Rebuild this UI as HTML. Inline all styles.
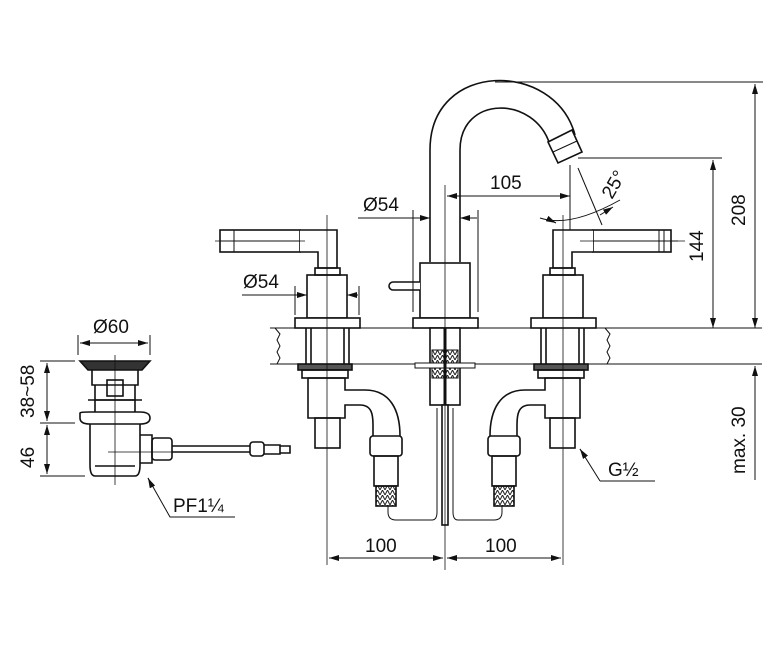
<!DOCTYPE html>
<html><head><meta charset="utf-8"><style>
html,body{margin:0;padding:0;background:#fff}
svg{display:block}
text{font-family:"Liberation Sans","DejaVu Sans",sans-serif;font-size:19px;fill:#111}
</style></head><body>
<svg width="780" height="650" viewBox="0 0 780 650" xmlns="http://www.w3.org/2000/svg">
<defs>
<marker id="a" viewBox="0 0 10 6" refX="10" refY="3" markerWidth="10" markerHeight="6" orient="auto-start-reverse" markerUnits="userSpaceOnUse"><path d="M0,0 L10,3 L0,6z" fill="#111"/></marker>
<pattern id="br" width="5" height="5" patternUnits="userSpaceOnUse"><path d="M0,5 L2.5,0 L5,5" fill="none" stroke="#222" stroke-width="1"/></pattern>
</defs>
<g fill="none" stroke="#111" stroke-width="1.6">
<!-- counter -->
<path d="M270,328 H762 M270,364 H762" stroke-width="1"/>
<path d="M275,328 l5,6 -3,6 3,6 -3,6 3,6 -3,6 M605,328 l5,6 -3,6 3,6 -3,6 3,6 -3,6" stroke-width="1"/>
<!-- spout -->
<path d="M430,262 V150 C430,60 555,60 575,135"/>
<path d="M460,262 V150 C460,95 535,95 550,145"/>
<path d="M548,142 L572,130 L582,152 L558,163 Z" fill="#fff"/>
<path d="M553,152 L577,141" stroke-width="1"/>
<rect x="420" y="263" width="50" height="55" fill="#fff"/>
<rect x="413" y="318" width="65" height="10" fill="#fff"/>
<path d="M420,282 H393 a4,4 0 0 0 0,8 H420" fill="#fff"/>
<!-- left handle -->
<rect x="220" y="230" width="80" height="22" fill="#fff"/>
<path d="M234,230 V252 M220,241 H300" stroke-width="1"/>
<path d="M300,230 H337 V268 H318 V252 H300" fill="#fff"/>
<rect x="315" y="268" width="25" height="7"/>
<rect x="307" y="275" width="40" height="43"/>
<rect x="295" y="318" width="65" height="10" fill="#fff"/>
<!-- right handle -->
<rect x="593" y="230" width="78" height="22" fill="#fff"/>
<path d="M659,230 V252 M664,230 V252 M593,241 H678" stroke-width="1"/>
<path d="M593,230 H553 V268 H572 V252 H593" fill="#fff"/>
<rect x="550" y="268" width="25" height="7"/>
<rect x="543" y="275" width="40" height="43"/>
<rect x="531" y="318" width="65" height="10" fill="#fff"/>
<!-- left below counter -->
<path d="M306,328 V364 M349,328 V364 M311,328 V364 M344,328 V364"/>
<rect x="298" y="364" width="54" height="6" fill="#555"/>
<rect x="302" y="370" width="46" height="8"/>
<path d="M308,378 V418 H345 V405 H360 C372,405 373,415 373,425 V436 M308,378 H345 V390 H365 C390,390 400,410 400,436"/>
<rect x="315" y="418" width="25" height="30"/>
<rect x="370" y="436" width="32" height="20" rx="3"/>
<rect x="374" y="456" width="24" height="30"/>
<rect x="376" y="486" width="20" height="20" fill="url(#br)"/>
<path d="M388,506 V512 Q388,520 396,520 H432 Q437,520 437,512 V408" stroke-width="1"/>
<!-- right below counter -->
<path d="M541,328 V364 M584,328 V364 M546,328 V364 M579,328 V364"/>
<rect x="534" y="364" width="54" height="6" fill="#555"/>
<rect x="538" y="370" width="46" height="8"/>
<path d="M580,378 V418 H545 V405 H530 C518,405 517,415 517,425 V436 M580,378 H545 V390 H525 C500,390 490,410 490,436"/>
<rect x="550" y="418" width="25" height="30"/>
<rect x="488" y="436" width="32" height="20" rx="3"/>
<rect x="492" y="456" width="24" height="30"/>
<rect x="494" y="486" width="20" height="20" fill="url(#br)"/>
<path d="M502,506 V512 Q502,520 494,520 H458 Q453,520 453,512 V408" stroke-width="1"/>
<!-- center below -->
<rect x="430" y="328" width="30" height="77" fill="#fff"/>
<rect x="432" y="350" width="12" height="28" fill="url(#br)" stroke-width="1"/>
<rect x="446" y="350" width="12" height="28" fill="url(#br)" stroke-width="1"/>
<rect x="415" y="363" width="60" height="5" fill="#fff" stroke-width="1"/>
<path d="M445,328 V405" stroke-width="3"/>
<rect x="442" y="405" width="6" height="120" fill="#fff"/>
<!-- center lines -->
<path d="M327,215 V565 M445,185 V570 M563,215 V565 M215,241 H305 M580,241 H685" stroke-width="0.8"/>
<!-- drain -->
<path d="M80,361 H150 L142,370 H88 Z" fill="#333"/>
<path d="M92,370 V385 H138 V370 M95,385 V400 H135 V385" />
<rect x="107" y="380" width="16" height="16"/>
<path d="M88,400 H142 M95,400 V412 M135,400 V412"/>
<path d="M80,413 Q80,412 90,412 H140 Q150,412 150,418 Q150,424 140,424 H90 Q80,424 80,418 Z"/>
<path d="M90,424 V465 Q90,476 95,476 H135 Q140,476 140,465 V424"/>
<path d="M95,466 H135"/>
<path d="M140,435 H152 V463 H140"/>
<rect x="152" y="438" width="20" height="22" rx="3"/>
<path d="M172,446 H250 M172,452 H250"/>
<rect x="250" y="442" width="14" height="14" rx="3"/>
<path d="M264,445 H280 V454 H264 M280,446 H290 V453 H280"/>
<path d="M115,355 V485 M108,452 H180" stroke-width="0.8"/>
</g>
<!-- dimensions -->
<g fill="none" stroke="#111" stroke-width="1">
<path d="M495,82 H763 M578,158 H722 M630,364 H762"/>
<path d="M755,84 V328" marker-start="url(#a)" marker-end="url(#a)"/>
<path d="M713,160 V328" marker-start="url(#a)" marker-end="url(#a)"/>
<path d="M755,366 V480" marker-start="url(#a)"/>
<path d="M358,218 H430" marker-end="url(#a)"/>
<path d="M460,218 H477" marker-start="url(#a)"/>
<path d="M413,210 V312 M478,210 V312"/>
<path d="M447,196 H570" marker-start="url(#a)" marker-end="url(#a)"/>
<path d="M570,165 V230"/>
<path d="M578,168 L602,225"/>
<path d="M540,218 Q570,228 620,200" />
<path d="M550,220 L556,223" marker-end="url(#a)"/>
<path d="M600,215 L613,207" marker-end="url(#a)"/>
<path d="M242,295 H307" marker-end="url(#a)"/>
<path d="M347,295 H358" marker-start="url(#a)"/>
<path d="M295,286 V315 M359,286 V315"/>
<path d="M329,558 H443" marker-start="url(#a)" marker-end="url(#a)"/>
<path d="M447,558 H561" marker-start="url(#a)" marker-end="url(#a)"/>
<path d="M600,481 H655 M600,481 L580,449" />
<path d="M584,455 L580,449" marker-end="url(#a)"/>
<path d="M78,335 V355 M150,335 V355"/>
<path d="M80,343 H148" marker-start="url(#a)" marker-end="url(#a)"/>
<path d="M40,361 H75 M40,423 H75 M40,476 H85"/>
<path d="M47,363 V421" marker-start="url(#a)" marker-end="url(#a)"/>
<path d="M47,425 V474" marker-start="url(#a)" marker-end="url(#a)"/>
<path d="M148,478 L170,517 H235" />
<path d="M150,482 L148,478" marker-end="url(#a)"/>
</g>
<g>
<text x="490" y="189">105</text>
<text x="363" y="211">Ø54</text>
<text x="243" y="288">Ø54</text>
<text x="93" y="333">Ø60</text>
<text x="365" y="552">100</text>
<text x="485" y="552">100</text>
<text x="608" y="476">G½</text>
<text x="173" y="512">PF1¼</text>
<text transform="translate(612,200) rotate(-60)">25°</text>
<text transform="translate(745,226) rotate(-90)">208</text>
<text transform="translate(703,262) rotate(-90)">144</text>
<text transform="translate(745,474) rotate(-90)">max. 30</text>
<text transform="translate(34,418) rotate(-90)">38~58</text>
<text transform="translate(34,468) rotate(-90)">46</text>
</g>
</svg>
</body></html>
